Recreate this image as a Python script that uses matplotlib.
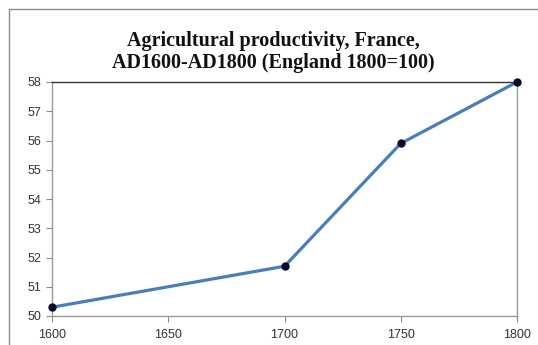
import matplotlib
matplotlib.use("Agg")
import matplotlib.pyplot as plt
from matplotlib.patches import Rectangle

years = [1600, 1700, 1750, 1800]
productivity = [50.3, 51.7, 55.9, 58.0]
x_ticks = [1600, 1650, 1700, 1750, 1800]
y_ticks = [50, 51, 52, 53, 54, 55, 56, 57, 58]
title = "Agricultural productivity, France,\nAD1600-AD1800 (England 1800=100)"

fig = plt.figure(figsize=(5.38, 3.45), dpi=100)
fig.patch.set_facecolor("white")
# outer chart frame
fig.patches.append(Rectangle((9 / 538, -0.05), 1.2, 1.05 - 9 / 345,
                             transform=fig.transFigure, fill=False,
                             edgecolor="#8c8c8c", linewidth=1.0))

ax = fig.add_axes([52 / 538, 1 - 316 / 345, (517 - 52) / 538, (316 - 82) / 345])
ax.plot(years, productivity, color="#4a7ebb", linewidth=2.3, zorder=2)
ax.plot(years, productivity, linestyle="none", marker="o", markersize=5,
        color="#0a0a2a", zorder=3, clip_on=False)

ax.set_xlim(1600, 1800)
ax.set_ylim(50, 58)
ax.set_xticks(x_ticks)
ax.set_yticks(y_ticks)
ax.tick_params(axis="both", labelsize=9, colors="#8c8c8c", length=4,
               labelcolor="#333333")
ax.tick_params(axis="x", pad=5)
for lab in ax.get_xticklabels() + ax.get_yticklabels():
    lab.set_family("Liberation Sans")

for side in ("left", "bottom", "right"):
    ax.spines[side].set_color("#9a9a9a")
    ax.spines[side].set_linewidth(1.0)
ax.spines["top"].set_color("#333333")
ax.spines["top"].set_linewidth(1.0)

fig.text(273.5 / 538, 1 - 52 / 345, title, ha="center", va="center",
         family="Liberation Serif", fontweight="bold", fontsize=14.5,
         linespacing=1.1, color="#111111")

fig.savefig("out.png", dpi=100)
